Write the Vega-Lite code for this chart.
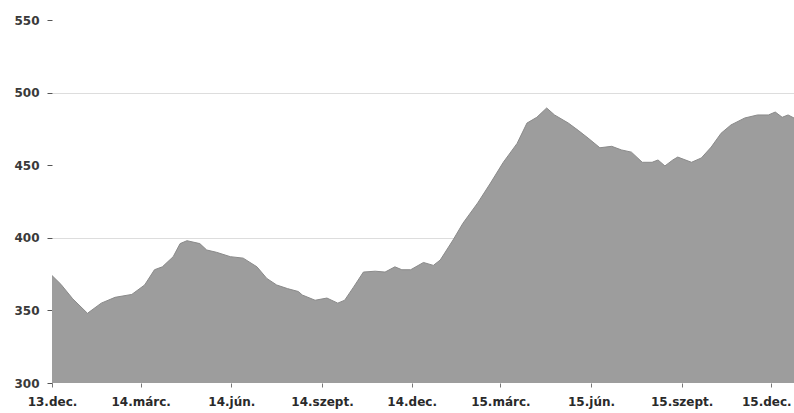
{
  "$schema": "https://vega.github.io/schema/vega-lite/v6.json",
  "width": 742,
  "height": 363,
  "autosize": {"type": "none"},
  "padding": {"left": 52, "top": 20, "right": 0, "bottom": 30},
  "background": "#ffffff",
  "config": {"view": {"stroke": null}},
  "data": {"values": [
    {"date": "2013-12-01", "value": 374},
    {"date": "2013-12-10", "value": 368},
    {"date": "2013-12-22", "value": 358},
    {"date": "2014-01-06", "value": 348},
    {"date": "2014-01-20", "value": 355},
    {"date": "2014-02-03", "value": 359},
    {"date": "2014-02-20", "value": 361},
    {"date": "2014-03-05", "value": 367.5},
    {"date": "2014-03-15", "value": 378},
    {"date": "2014-03-23", "value": 380},
    {"date": "2014-04-03", "value": 387},
    {"date": "2014-04-10", "value": 396},
    {"date": "2014-04-17", "value": 398},
    {"date": "2014-04-30", "value": 396},
    {"date": "2014-05-07", "value": 391.6},
    {"date": "2014-05-17", "value": 390},
    {"date": "2014-05-31", "value": 387},
    {"date": "2014-06-13", "value": 386},
    {"date": "2014-06-27", "value": 380},
    {"date": "2014-07-07", "value": 372},
    {"date": "2014-07-17", "value": 367.5},
    {"date": "2014-07-28", "value": 365},
    {"date": "2014-08-08", "value": 363},
    {"date": "2014-08-12", "value": 360.6},
    {"date": "2014-08-25", "value": 357},
    {"date": "2014-09-06", "value": 358.5},
    {"date": "2014-09-17", "value": 355},
    {"date": "2014-09-24", "value": 357},
    {"date": "2014-10-03", "value": 366},
    {"date": "2014-10-13", "value": 376.4},
    {"date": "2014-10-25", "value": 377},
    {"date": "2014-11-04", "value": 376.4},
    {"date": "2014-11-14", "value": 380},
    {"date": "2014-11-21", "value": 378},
    {"date": "2014-11-30", "value": 378},
    {"date": "2014-12-13", "value": 383},
    {"date": "2014-12-23", "value": 381},
    {"date": "2014-12-30", "value": 384.7},
    {"date": "2015-01-12", "value": 398.5},
    {"date": "2015-01-22", "value": 410},
    {"date": "2015-02-06", "value": 424},
    {"date": "2015-02-19", "value": 437.7},
    {"date": "2015-03-04", "value": 452},
    {"date": "2015-03-18", "value": 465},
    {"date": "2015-03-28", "value": 479},
    {"date": "2015-04-07", "value": 483},
    {"date": "2015-04-17", "value": 489.4},
    {"date": "2015-04-25", "value": 484.6},
    {"date": "2015-05-09", "value": 479},
    {"date": "2015-05-19", "value": 474},
    {"date": "2015-05-29", "value": 468.7},
    {"date": "2015-06-10", "value": 462},
    {"date": "2015-06-22", "value": 463},
    {"date": "2015-07-02", "value": 460.5},
    {"date": "2015-07-12", "value": 459},
    {"date": "2015-07-23", "value": 452},
    {"date": "2015-08-02", "value": 452},
    {"date": "2015-08-08", "value": 453.6},
    {"date": "2015-08-15", "value": 449.5},
    {"date": "2015-08-23", "value": 453.6},
    {"date": "2015-08-28", "value": 455.6},
    {"date": "2015-09-11", "value": 452},
    {"date": "2015-09-21", "value": 455},
    {"date": "2015-10-01", "value": 462.5},
    {"date": "2015-10-11", "value": 472},
    {"date": "2015-10-21", "value": 477.7},
    {"date": "2015-11-04", "value": 482.5},
    {"date": "2015-11-17", "value": 484.6},
    {"date": "2015-11-28", "value": 484.6},
    {"date": "2015-12-05", "value": 486.6},
    {"date": "2015-12-12", "value": 483},
    {"date": "2015-12-18", "value": 484.6},
    {"date": "2015-12-24", "value": 482.5}
  ]},
  "mark": {"type": "area", "clip": true, "color": "#9d9d9d", "opacity": 1, "line": {"color": "#8a8a8a", "strokeWidth": 1, "clip": true}, "interpolate": "linear"},
  "encoding": {
    "x": {
      "field": "date", "type": "temporal",
      "scale": {"domain": [{"year": 2013, "month": 12, "date": 1}, {"year": 2015, "month": 12, "date": 24}], "nice": false},
      "axis": {
        "title": null,
        "grid": false,
        "domain": false,
        "values": [
          {"year": 2013, "month": 12, "date": 1},
          {"year": 2014, "month": 3, "date": 1},
          {"year": 2014, "month": 6, "date": 1},
          {"year": 2014, "month": 9, "date": 1},
          {"year": 2014, "month": 12, "date": 1},
          {"year": 2015, "month": 3, "date": 1},
          {"year": 2015, "month": 6, "date": 1},
          {"year": 2015, "month": 9, "date": 1},
          {"year": 2015, "month": 12, "date": 1}
        ],
        "labelExpr": "timeFormat(datum.value, '%y') + '.' + (month(datum.value) == 11 ? 'dec.' : month(datum.value) == 2 ? 'márc.' : month(datum.value) == 5 ? 'jún.' : 'szept.')",
        "labelFont": "DejaVu Sans",
        "labelFontWeight": "bold",
        "labelFontSize": 12,
        "labelColor": "#2a2a2a",
        "labelPadding": 9,
        "labelOffset": {"condition": {"test": "year(datum.value) == 2015 && month(datum.value) == 11", "value": -5}, "value": 0},
        "labelOverlap": false,
        "labelFlush": false,
        "tickColor": "#777777",
        "tickSize": 4
      }
    },
    "y": {
      "field": "value", "type": "quantitative",
      "scale": {"domain": [300, 550], "nice": false, "zero": false},
      "axis": {
        "title": null,
        "values": [300, 350, 400, 450, 500, 550],
        "domain": false,
        "grid": true,
        "gridColor": "#dddddd",
        "gridOpacity": {"condition": {"test": "datum.value % 100 === 0 && datum.value > 300", "value": 1}, "value": 0},
        "labelFont": "DejaVu Sans",
        "labelFontWeight": "bold",
        "labelFontSize": 12,
        "labelColor": "#3a3a3a",
        "labelPadding": 8,
        "tickColor": "#555555",
        "tickSize": 5
      }
    }
  }
}
